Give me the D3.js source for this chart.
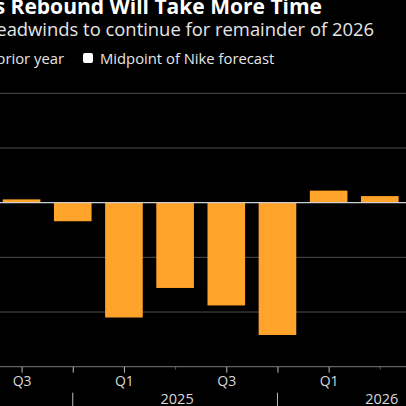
<!DOCTYPE html>
<html>
<head>
<meta charset="utf-8">
<script src="https://cdn.jsdelivr.net/npm/d3@7"></script>
<style>
  html, body { margin: 0; padding: 0; background: #000; }
  svg { display: block; }
  text { font-family: "Open Sans", "Noto Sans", sans-serif; }
</style>
</head>
<body>
<div id="wrapper"></div>
<script>
// fiscal quarters shown (left edge of chart is cut)
const quarters = ["Q3", "Q4", "Q1", "Q2", "Q3", "Q4", "Q1", "Q2"];
const fiscalYears = [2024, 2024, 2025, 2025, 2025, 2025, 2026, 2026];
// revenue change from prior year, %
const revenueChange = [0.3, -1.7, -10.5, -7.8, -9.4, -12.1, 1.1, 0.6];
const yTicks = [10, 5, 0, -5, -10, -15];
const labelledQuarters = ["Q1", "Q3"];

const data = quarters.map((q, i) => ({ key: q + " " + fiscalYears[i], q: q, year: fiscalYears[i], value: revenueChange[i] }));

const width = 406, height = 406;

const svg = d3.select("#wrapper").append("svg")
    .attr("width", width)
    .attr("height", height)
    .style("background", "#000");

// titles, left part is cropped in the reference
svg.append("text")
    .attr("x", 322).attr("y", 13.5)
    .attr("text-anchor", "end")
    .attr("fill", "#fff")
    .attr("font-size", 21)
    .attr("font-weight", "bold")
    .text("Nike's Rebound Will Take More Time");

svg.append("text")
    .attr("x", 374).attr("y", 35.5)
    .attr("text-anchor", "end")
    .attr("fill", "#e6e6e6")
    .attr("font-size", 18.4)
    .text("Nike expects headwinds to continue for remainder of 2026");

// legend
svg.append("text")
    .attr("x", 64).attr("y", 63.5)
    .attr("text-anchor", "end")
    .attr("fill", "#e6e6e6")
    .attr("font-size", 14.8)
    .text("Revenue change from prior year");

svg.append("rect")
    .attr("x", 83).attr("y", 53)
    .attr("width", 10).attr("height", 10)
    .attr("rx", 2)
    .attr("fill", "#fff");

svg.append("text")
    .attr("x", 100).attr("y", 63.5)
    .attr("fill", "#e6e6e6")
    .attr("font-size", 14.8)
    .text("Midpoint of Nike forecast");

const x = d3.scalePoint()
    .domain(data.map(d => d.key))
    .range([-4, 405.4])
    .padding(0.5);

const barWidth = x.step() * 0.735;

const y = d3.scaleLinear()
    .domain([-15, 10])
    .range([366.7, 93.3]);

// gridlines
svg.append("g")
    .selectAll("line")
    .data(yTicks.filter(t => t !== 0 && t !== -15))
    .join("line")
    .attr("x1", 0).attr("x2", width)
    .attr("y1", d => y(d)).attr("y2", d => y(d))
    .attr("stroke", "#4d4d4d")
    .attr("stroke-width", 1);

// bars
svg.append("g")
    .selectAll("rect")
    .data(data)
    .join("rect")
    .attr("x", d => x(d.key) - barWidth / 2)
    .attr("width", barWidth)
    .attr("y", d => y(Math.max(0, d.value)))
    .attr("height", d => Math.abs(y(d.value) - y(0)))
    .attr("fill", "#ffa32b");

// zero line
svg.append("line")
    .attr("x1", 0).attr("x2", width)
    .attr("y1", y(0)).attr("y2", y(0))
    .attr("stroke", "#cfcfcf")
    .attr("stroke-width", 1.2);

// x axis
const xAxis = d3.axisBottom(x)
    .tickSize(6)
    .tickPadding(3)
    .tickFormat(k => {
        const q = k.split(" ")[0];
        return labelledQuarters.includes(q) ? q : "";
    });

const axisG = svg.append("g")
    .attr("transform", `translate(0,${y(-15)})`)
    .call(xAxis);

axisG.select(".domain").remove();
axisG.append("line")
    .attr("x1", 0).attr("x2", width)
    .attr("stroke", "#7a7a7a")
    .attr("stroke-width", 1);

axisG.selectAll(".tick line")
    .attr("stroke", d => d.startsWith("Q2") ? "#555" : "#bdbdbd")
    .attr("y2", d => d.startsWith("Q2") ? 3 : 6);

axisG.selectAll(".tick text")
    .attr("fill", "#d9d9d9")
    .attr("font-size", 14)
    .attr("font-family", "'Open Sans', sans-serif");

// fiscal year separators at the Q4 ticks
const q4 = data.filter(d => d.q === "Q4");
axisG.selectAll(".sep")
    .data(q4)
    .join("line")
    .attr("class", "sep")
    .attr("x1", d => x(d.key)).attr("x2", d => x(d.key))
    .attr("y1", 26).attr("y2", 40)
    .attr("stroke", "#bdbdbd")
    .attr("stroke-width", 1);

// year labels under the Q2 of each year
const yearLabels = data.filter(d => d.q === "Q2" && d.year > 2024);
axisG.selectAll(".year")
    .data(yearLabels)
    .join("text")
    .attr("class", "year")
    .attr("x", d => x(d.key) + 2)
    .attr("y", 37)
    .attr("text-anchor", "middle")
    .attr("fill", "#d9d9d9")
    .attr("font-size", 14.5)
    .text(d => d.year);
</script>
</body>
</html>
